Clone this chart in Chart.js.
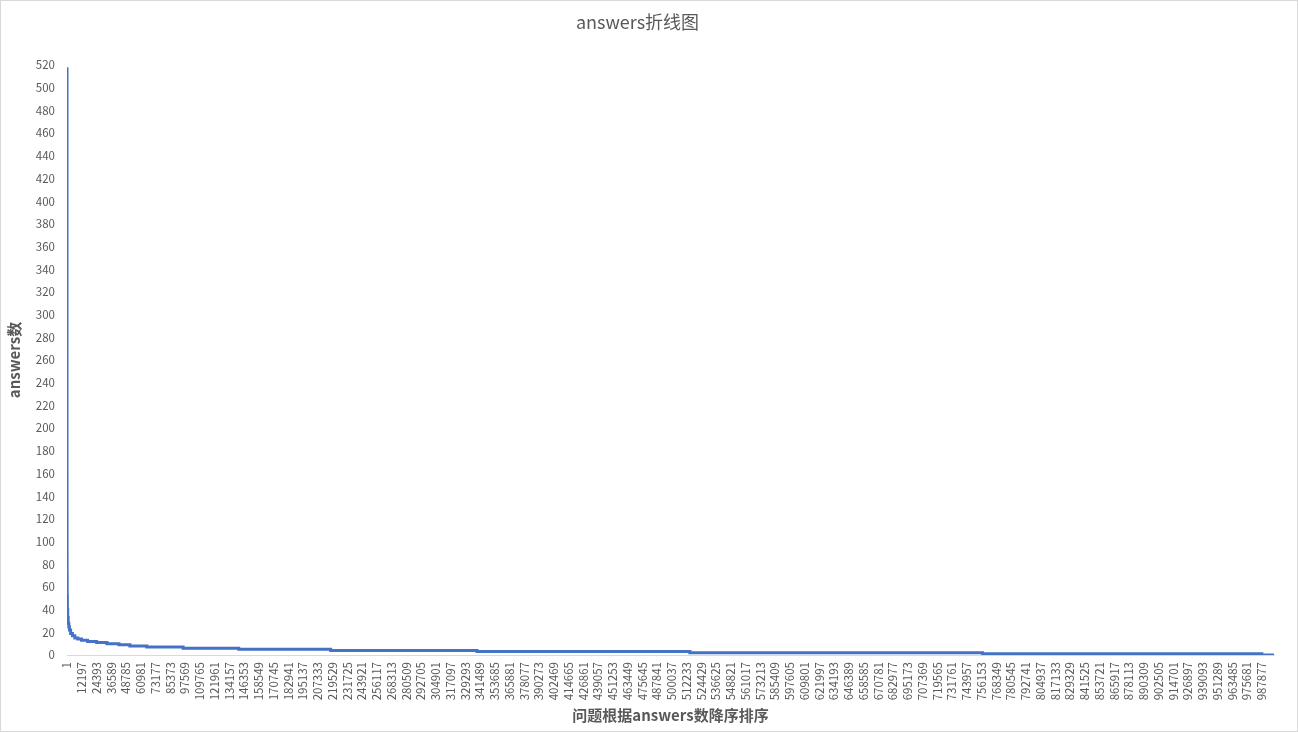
<!DOCTYPE html>
<html>
<head>
<meta charset="utf-8">
<script src="https://cdn.jsdelivr.net/npm/chart.js@4.4.1/dist/chart.umd.min.js"></script>
<style>
  html, body { margin: 0; padding: 0; background: #ffffff; }
  #wrap { position: relative; width: 1298px; height: 732px; box-sizing: border-box; border: 1px solid #d9d9d9; background: #fff; }
  canvas { display: block; }
</style>
</head>
<body>
<div id="wrap"><canvas id="c" width="1296" height="730"></canvas></div>
<script>
// Question rank (sorted by answers, descending) where each answer-count level begins
const rankStart = [1, 2, 3, 5, 10, 20, 40, 80, 150, 300, 600, 1000, 1500, 2000, 3000, 4500, 6500, 9000, 12000, 17000, 24500, 33000, 43000, 52000, 66000, 96000, 142000, 218000, 339000, 515000, 757000, 988000, 998000];
// Answer count from that rank on
const answerCount = [518, 420, 350, 280, 210, 160, 120, 90, 70, 52, 40, 33, 28, 25, 22, 19, 17, 15, 14, 13, 12, 11, 10, 9, 8, 7, 6, 5, 4, 3, 2, 1, 0];
// Category-axis tick labels
const xTickLabels = [1, 12197, 24393, 36589, 48785, 60981, 73177, 85373, 97569, 109765, 121961, 134157, 146353, 158549, 170745, 182941, 195137, 207333, 219529, 231725, 243921, 256117, 268313, 280509, 292705, 304901, 317097, 329293, 341489, 353685, 365881, 378077, 390273, 402469, 414665, 426861, 439057, 451253, 463449, 475645, 487841, 500037, 512233, 524429, 536625, 548821, 561017, 573213, 585409, 597605, 609801, 621997, 634193, 646389, 658585, 670781, 682977, 695173, 707369, 719565, 731761, 743957, 756153, 768349, 780545, 792741, 804937, 817133, 829329, 841525, 853721, 865917, 878113, 890309, 902505, 914701, 926897, 939093, 951289, 963485, 975681, 987877];
const yMax = 520;
const yStep = 20;
const lastRank = 998000;

const FONT = "'Noto Sans CJK SC', 'Microsoft YaHei', sans-serif";
const GRAY = '#595959';

const points = rankStart.map((r, i) => ({ x: r, y: answerCount[i] }));

new Chart(document.getElementById('c'), {
  type: 'line',
  data: {
    datasets: [{
      label: 'answers',
      data: points,
      borderColor: '#4472C4',
      backgroundColor: '#4472C4',
      borderWidth: 3,
      pointRadius: 0,
      pointHoverRadius: 0,
      stepped: 'after',
      fill: false,
      tension: 0
    }]
  },
  options: {
    responsive: false,
    animation: false,
    devicePixelRatio: 1,
    layout: { padding: { left: 0, right: 23, top: 0, bottom: 0 } },
    plugins: {
      legend: { display: false },
      tooltip: { enabled: false },
      title: {
        display: true,
        text: 'answers折线图',
        color: GRAY,
        font: { family: FONT, size: 18, weight: 'normal' },
        padding: { top: 10, bottom: 32.4 }
      }
    },
    scales: {
      x: {
        type: 'linear',
        min: 1,
        max: lastRank,
        afterBuildTicks: (scale) => { scale.ticks = xTickLabels.map(v => ({ value: v })); },
        afterFit: (scale) => { scale.height = 76; },
        grid: { display: false, drawTicks: false },
        border: { display: true, color: '#d9d9d9', width: 1 },
        ticks: {
          autoSkip: false,
          minRotation: 90,
          maxRotation: 90,
          padding: 7,
          color: GRAY,
          font: { family: FONT, size: 11.5 },
          callback: (v) => String(v)
        },
        title: {
          display: true,
          text: '问题根据answers数降序排序',
          color: GRAY,
          font: { family: FONT, size: 15, weight: 'bold' },
          padding: { top: 0, bottom: 7 }
        }
      },
      y: {
        type: 'linear',
        min: 0,
        max: yMax,
        afterFit: (scale) => { scale.width = 66; },
        grid: { display: false, drawTicks: false },
        border: { display: false },
        ticks: {
          stepSize: yStep,
          padding: 12,
          color: GRAY,
          font: { family: FONT, size: 11.5 },
          callback: (v) => String(v)
        },
        title: {
          display: true,
          text: 'answers数',
          color: GRAY,
          font: { family: FONT, size: 15, weight: 'bold' },
          padding: { top: 4, bottom: 0 }
        }
      }
    }
  }
});
</script>
</body>
</html>
